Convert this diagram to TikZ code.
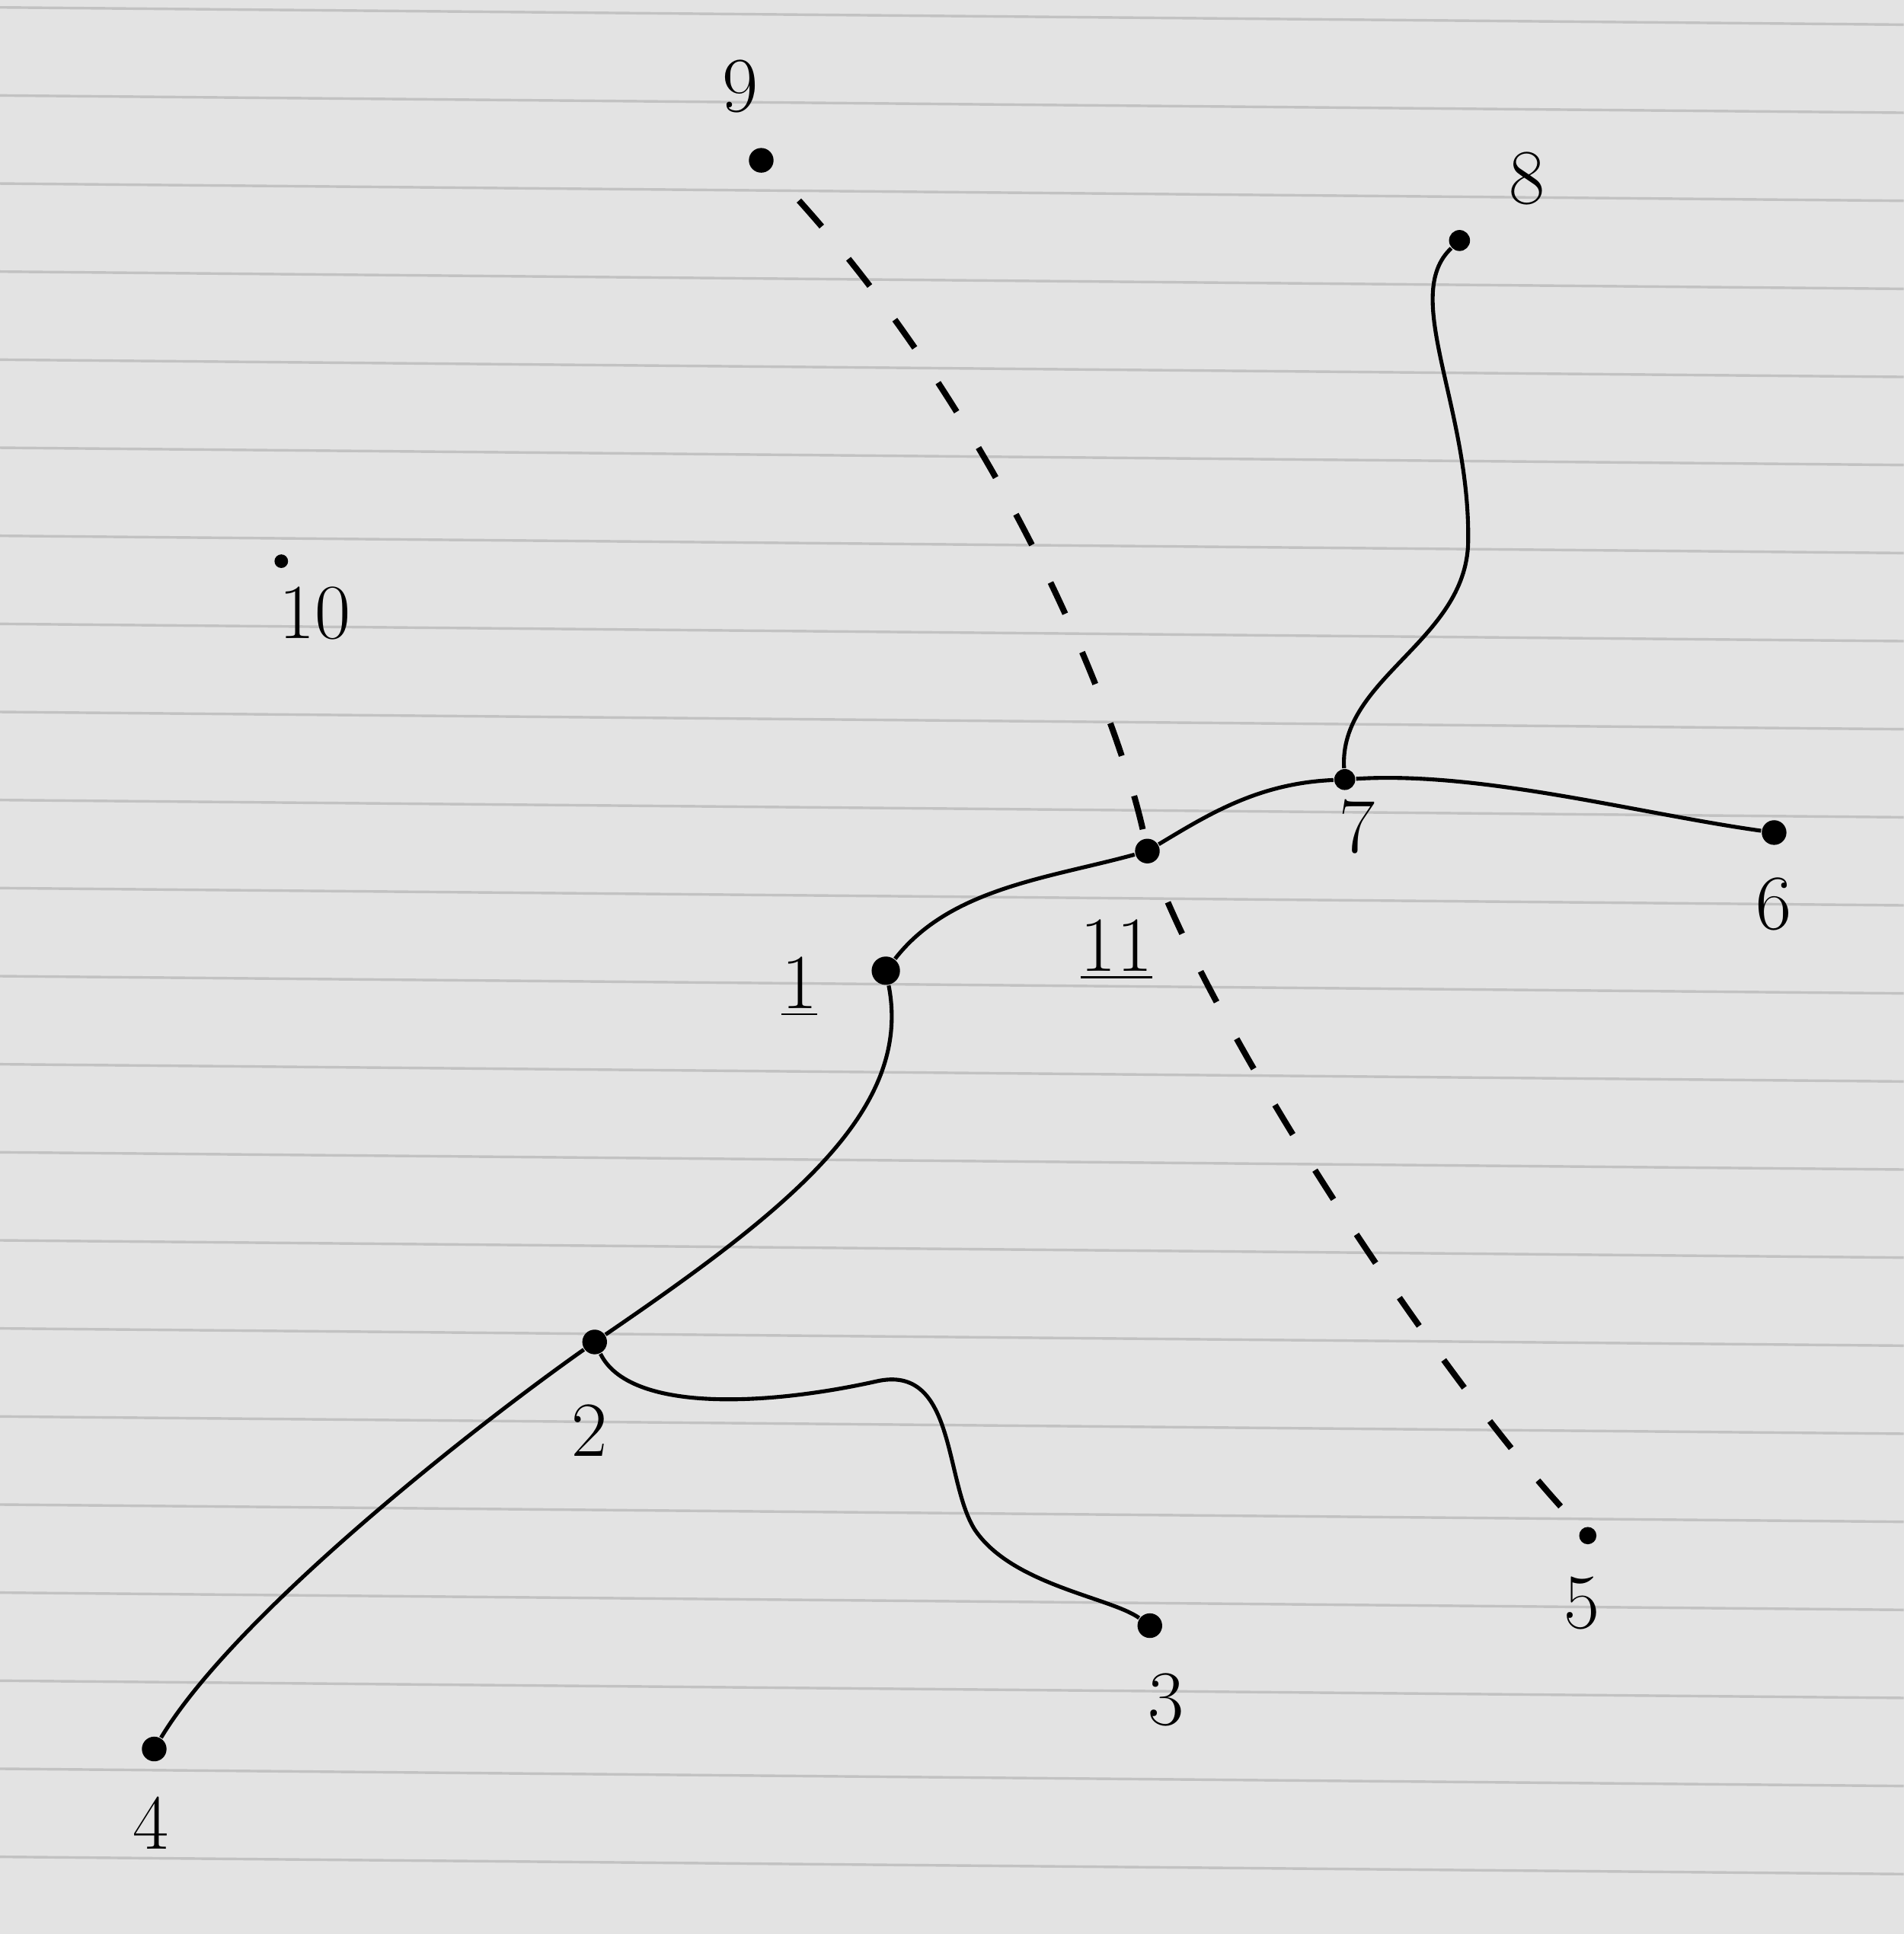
\documentclass[tikz,border=0pt]{standalone}
\usepackage{tikz}

\definecolor{paper}{gray}{0.89}
\definecolor{ratlla}{gray}{0.76}

\tikzset{
    punt/.style={circle, fill=black, inner sep=0pt, minimum size=0.2cm},
    etiqueta/.style={inner sep=1pt, font=\fontsize{18}{20}\selectfont},
    aresta/.style={line width=0.9pt},
    tallada/.style={line width=1.4pt, dash pattern=on 0.28cm off 0.34cm, dash phase=0.28cm, shorten >=0.12cm}
}

\begin{document}
\begin{tikzpicture}

% ---- FULL RATLLAT ----
\fill[paper] (0,0) rectangle (15.43,-15.68);
\useasboundingbox (0,0) rectangle (15.43,-15.68);
\foreach \k in {0,...,21}
    \draw[ratlla, line width=0.6pt] (0,{-0.06-0.714*\k}) -- (15.43,{-0.20-0.714*\k});

% ---- PUNTS ----
\node[punt, minimum size=0.23cm] (n1) at (7.18,-7.87) {};
\node[punt] (n2) at (4.82,-10.88) {};
\node[punt] (n3) at (9.32,-13.18) {};
\node[punt] (n4) at (1.25,-14.18) {};
\node[punt, minimum size=0.14cm] (n5) at (12.87,-12.45) {};
\node[punt] (n6) at (14.38,-6.75) {};
\node[punt, minimum size=0.17cm] (n7) at (10.90,-6.32) {};
\node[punt, minimum size=0.17cm] (n8) at (11.83,-1.95) {};
\node[punt] (n9) at (6.17,-1.30) {};
\node[punt, minimum size=0.11cm] (n10) at (2.28,-4.55) {};
\node[punt] (n11) at (9.30,-6.90) {};

% ---- ETIQUETES ----
\node[etiqueta] (l1) at (6.48,-8.00) {\underline{1}};
\node[etiqueta] (l2) at (4.78,-11.60) {2};
\node[etiqueta] (l3) at (9.45,-13.78) {3};
\node[etiqueta] (l4) at (1.22,-14.78) {4};
\node[etiqueta] (l5) at (12.82,-13.00) {5};
\node[etiqueta] (l6) at (14.38,-7.33) {6};
\node[etiqueta] (l7) at (11.00,-6.70) {7};
\node[etiqueta] (l8) at (12.38,-1.45) {8};
\node[etiqueta] (l9) at (6.00,-0.70) {9};
\node[etiqueta] (l10) at (2.55,-4.97) {10};
\node[etiqueta] (l11) at (9.05,-7.70) {\underline{11}};

% ---- ARESTES ----
\draw[aresta] (n8) .. controls (11.35,-2.40) and (11.92,-3.30) .. (11.90,-4.40)
    .. controls (11.88,-5.20) and (10.85,-5.50) .. (n7);
\draw[aresta] (n7) .. controls (12.00,-6.25) and (13.30,-6.60) .. (n6);
\draw[aresta] (n11) .. controls (9.80,-6.60) and (10.20,-6.35) .. (n7);
\draw[aresta] (n1) .. controls (7.70,-7.20) and (8.50,-7.12) .. (n11);
\draw[aresta] (n1) .. controls (7.40,-9.00) and (6.40,-9.80) .. (n2);
\draw[aresta] (n2) .. controls (3.80,-11.60) and (1.90,-13.10) .. (n4);
% Branca ondulada
\draw[aresta] (n2) .. controls (5.10,-11.45) and (6.20,-11.40) .. (7.10,-11.20)
    .. controls (7.75,-11.05) and (7.65,-12.00) .. (7.90,-12.40)
    .. controls (8.20,-12.85) and (9.00,-12.95) .. (n3);
% Linia discontinua
\draw[tallada] (n9) .. controls (8.00,-3.20) and (9.05,-5.70) .. (n11)
    .. controls (9.90,-8.50) and (11.70,-11.20) .. (n5);

\end{tikzpicture}
\end{document}
